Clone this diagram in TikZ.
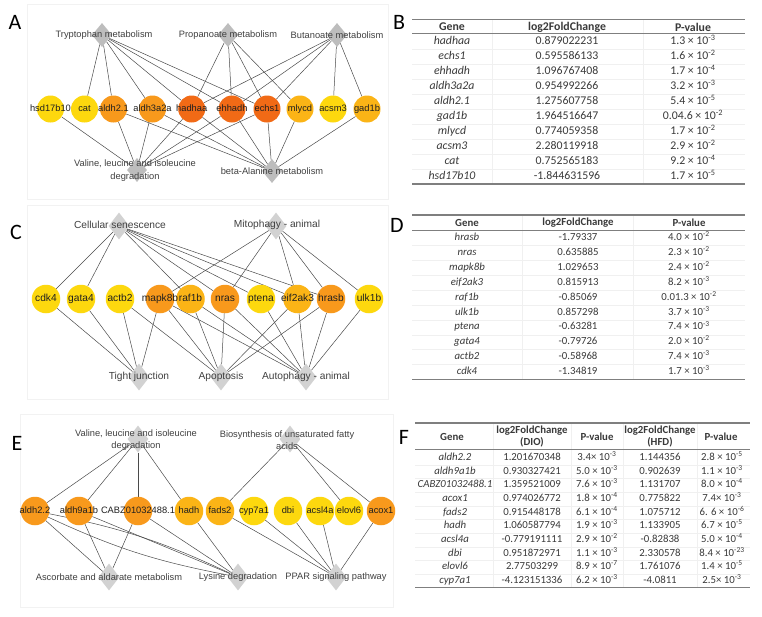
\documentclass[tikz,border=0pt]{standalone}
\usepackage{fontspec}
\setmainfont{Liberation Sans}
\newfontfamily\tabfont{Carlito}
\usetikzlibrary{shapes.geometric,backgrounds}
\definecolor{cy}{HTML}{FDD80E}
\definecolor{cl}{HTML}{FBB416}
\definecolor{co}{HTML}{F8991C}
\definecolor{cd}{HTML}{F16A16}
\definecolor{pwa}{HTML}{BDBDBD}
\definecolor{pwc}{HTML}{D2D2D2}
\definecolor{edgec}{HTML}{4A4A4A}
\definecolor{tabtext}{HTML}{3A3A3A}
\definecolor{rulec}{HTML}{7F7F7F}
\definecolor{gridc}{HTML}{F0F0F0}
\definecolor{framec}{HTML}{F2F2F2}
\tikzset{
  edge/.style={draw=edgec, line width=0.5pt},
  pwA/.style={diamond, fill=pwa, draw=none, minimum width=20pt, minimum height=24pt, inner sep=0pt},
  pwC/.style={diamond, fill=pwc, draw=none, minimum width=21pt, minimum height=27pt, inner sep=0pt},
  geneA/.style={circle, fill=#1, draw=none, minimum size=27pt, inner sep=0pt},
  geneC/.style={circle, fill=#1, draw=none, minimum size=28.5pt, inner sep=0pt},
  gtA/.style={font=\fontsize{9.3}{11}\selectfont, text=black!88, inner sep=0pt, text height=7pt, text depth=2pt},
  gtC/.style={font=\fontsize{10.2}{12}\selectfont, text=black!88, inner sep=0pt, text height=7.5pt, text depth=2pt},
  ptA/.style={font=\fontsize{9.3}{13}\selectfont, text=black!75, align=center, inner sep=0pt},
  ptC/.style={font=\fontsize{10.2}{13}\selectfont, text=black!75, align=center, inner sep=0pt},
  letter/.style={font=\tabfont\fontsize{22}{24}\selectfont, inner sep=0pt},
  trule/.style={draw=rulec, line width=1.2pt},
  tgrid/.style={draw=gridc, line width=0.5pt},
  frame/.style={draw=framec, line width=0.6pt},
  tc/.style={font=\tabfont\fontsize{#1}{13}\selectfont, text=tabtext, inner sep=0pt, text height=0.68*#1 pt, text depth=0.2*#1 pt},
  tg/.style={font=\tabfont\itshape\fontsize{#1}{13}\selectfont, text=tabtext, inner sep=0pt, text height=0.68*#1 pt, text depth=0.2*#1 pt},
  th/.style={font=\tabfont\bfseries\fontsize{#1}{12}\selectfont, text=tabtext, inner sep=0pt, align=center},
}
\begin{document}
\begin{tikzpicture}[x=1pt,y=-1pt]
\useasboundingbox (0,0) rectangle (762,616);

% ---------- letters ----------
\node[letter] (LA) at (15,22) {A};
\node[letter] (LB) at (399,22) {B};
\node[letter] (LC) at (16,232) {C};
\node[letter] (LD) at (397,225) {D};
\node[letter] (LE) at (17,443) {E};
\node[letter] (LF) at (404,437) {F};

% ---------- panel A ----------
\node[pwA] (trp) at (102,35) {};
\node[pwA] (pro) at (228,35) {};
\node[pwA] (but) at (337,35) {};
\node[pwA] (val) at (137,170) {};
\node[pwA] (bal) at (272,171) {};
\node[ptA] (trpL) at (104,35) {Tryptophan metabolism};
\node[ptA] (proL) at (228,35) {Propanoate metabolism};
\node[ptA] (butL) at (337,35) {Butanoate metabolism};
\node[ptA] (valL) at (135,171) {Valine, leucine and isoleucine\\degradation};
\node[ptA] (balL) at (272,171) {beta-Alanine metabolism};
\foreach \n/\x/\c in {hsd/50.5/cy, cat/84.5/cy, aldA/113.5/co, aldB/152.5/co, hadhaa/191.7/cd, ehh/232/cd, echs/267/cd, mly/300/cl, acsm/333/cy, gad/367/cl}
  \node[geneA=\c] (\n) at (\x,109) {};
\foreach \n/\t in {hsd/hsd17b10, cat/cat, aldA/aldh2.1, aldB/aldh3a2a, hadhaa/hadhaa, ehh/ehhadh, echs/echs1, mly/mlycd, acsm/acsm3, gad/gad1b}
  \node[gtA] (\n-t) at (\n) {\t};

% ---------- panel C ----------
\node[pwC] (cs) at (119,226) {};
\node[pwC] (mit) at (276,226) {};
\node[pwC] (tj) at (139,377) {};
\node[pwC] (apo) at (221,377) {};
\node[pwC] (aut) at (306,377) {};
\node[ptC] (csL) at (120,225) {Cellular senescence};
\node[ptC] (mitL) at (277,225) {Mitophagy - animal};
\node[ptC] (tjL) at (139,377) {Tight junction};
\node[ptC] (apoL) at (221,377) {Apoptosis};
\node[ptC] (autL) at (306,377) {Autophagy - animal};
\foreach \n/\x/\c in {cdk/46/cy, gata/81/cy, actb/120/cy, mapk/160/co, raf/190.5/cl, nras/225/co, pten/261/cy, eif/297.5/cl, hras/331/co, ulk/369/cy}
  \node[geneC=\c] (\n) at (\x,299) {};
\foreach \n/\t in {cdk/cdk4, gata/gata4, actb/actb2, mapk/mapk8b, raf/raf1b, nras/nras, pten/ptena, eif/eif2ak3, hras/hrasb, ulk/ulk1b}
  \node[gtC] (\n-t) at (\n) {\t};

% ---------- panel E ----------
\node[pwC] (valE) at (138,439) {};
\node[pwC] (bio) at (290,439) {};
\node[pwC] (asc) at (109,577) {};
\node[pwC] (lys) at (238,577) {};
\node[pwC] (ppar) at (336,577) {};
\node[ptA,font=\fontsize{9.3}{12}\selectfont] (valEL) at (136,440) {Valine, leucine and isoleucine\\degradation};
\node[ptA,font=\fontsize{9.3}{12}\selectfont] (bioL) at (287,440) {Biosynthesis of unsaturated fatty\\acids};
\node[ptA] (ascL) at (109,577) {Ascorbate and aldarate metabolism};
\node[ptA] (lysL) at (238,577) {Lysine degradation};
\node[ptA] (pparL) at (336,577) {PPAR signaling pathway};
\foreach \n/\x/\c in {aldC/35/co, aldD/79/co, cabz/138/co, hadh/189/cl, fads/220/cl, cyp/254/cy, dbi/288/cy, acsl/320/cy, elo/349/cy, acox/381/co}
  \node[geneC=\c] (\n) at (\x,511) {};
\foreach \n/\t in {aldC/aldh2.2, aldD/aldh9a1b, cabz/CABZ01032488.1, hadh/hadh, fads/fads2, cyp/cyp7a1, dbi/dbi, acsl/acsl4a, elo/elovl6, acox/acox1}
  \node[gtA] (\n-t) at (\n) {\t};

% ---------- table B ----------
\draw[trule] (412,19.5) -- (745,19.5);
\draw[trule,line width=1pt] (412,33.5) -- (745,33.5);
\draw[trule] (412,184) -- (745,184);
\node[th=11.8] (Bh1) at (452,27) {Gene};
\node[th=11.8] (Bh2) at (567,27) {log2FoldChange};
\node[th=11.8] (Bh3) at (693,27) {P-value};
\foreach \g/\v/\p [count=\i] in {
  hadhaa/0.879022231/1.3 × 10\textsuperscript{-3},
  echs1/0.595586133/1.6 × 10\textsuperscript{-2},
  ehhadh/1.096767408/1.7 × 10\textsuperscript{-4},
  aldh3a2a/0.954992266/3.2 × 10\textsuperscript{-3},
  aldh2.1/1.275607758/5.4 × 10\textsuperscript{-5},
  gad1b/1.964516647/0.04.6 × 10\textsuperscript{-2},
  mlycd/0.774059358/1.7 × 10\textsuperscript{-2},
  acsm3/2.280119918/2.9 × 10\textsuperscript{-2},
  cat/0.752565183/9.2 × 10\textsuperscript{-4},
  hsd17b10/-1.844631596/1.7 × 10\textsuperscript{-5}}
{
  \node[tg=11.8] (B-\i-1) at (452,{42+15*(\i-1)}) {\g};
  \node[tc=11.8] (B-\i-2) at (567,{42+15*(\i-1)}) {\v};
  \node[tc=11.8] (B-\i-3) at (693,{42+15*(\i-1)}) {\p};
}

% ---------- table D ----------
\draw[trule] (412,215) -- (745,215);
\draw[trule,line width=1pt] (412,230) -- (745,230);
\draw[trule] (412,379.5) -- (745,379.5);
\node[th=10.8] (Dh1) at (467,223) {Gene};
\node[th=10.8] (Dh2) at (578,223) {log2FoldChange};
\node[th=10.8] (Dh3) at (689,223) {P-value};
\foreach \g/\v/\p [count=\i] in {
  hrasb/-1.79337/4.0 × 10\textsuperscript{-2},
  nras/0.635885/2.3 × 10\textsuperscript{-2},
  mapk8b/1.029653/2.4 × 10\textsuperscript{-2},
  eif2ak3/0.815913/8.2 × 10\textsuperscript{-3},
  raf1b/-0.85069/0.01.3 × 10\textsuperscript{-2},
  ulk1b/0.857298/3.7 × 10\textsuperscript{-3},
  ptena/-0.63281/7.4 × 10\textsuperscript{-3},
  gata4/-0.79726/2.0 × 10\textsuperscript{-2},
  actb2/-0.58968/7.4 × 10\textsuperscript{-3},
  cdk4/-1.34819/1.7 × 10\textsuperscript{-3}}
{
  \node[tg=10.8] (D-\i-1) at (467,{238+14.9*(\i-1)}) {\g};
  \node[tc=10.8] (D-\i-2) at (578,{238+14.9*(\i-1)}) {\v};
  \node[tc=10.8] (D-\i-3) at (689,{238+14.9*(\i-1)}) {\p};
}

% ---------- table F ----------
\draw[trule] (415,423) -- (750,423);
\draw[trule,line width=1pt] (415,449) -- (750,449);
\draw[trule] (415,587.5) -- (750,587.5);
\node[th=10.8] (Fh1) at (452,437) {Gene};
\node[th=10.8] (Fh2) at (532,437) {log2FoldChange\\(DIO)};
\node[th=10.8] (Fh3) at (597,437) {P-value};
\node[th=10.8] (Fh4) at (660,437) {log2FoldChange\\(HFD)};
\node[th=10.8] (Fh5) at (721,437) {P-value};
\foreach \g/\v/\p/\w/\q [count=\i] in {
  aldh2.2/1.201670348/3.4× 10\textsuperscript{-3}/1.144356/2.8 × 10\textsuperscript{-5},
  aldh9a1b/0.930327421/5.0 × 10\textsuperscript{-3}/0.902639/1.1 × 10\textsuperscript{-3},
  CABZ01032488.1/1.359521009/7.6 × 10\textsuperscript{-3}/1.131707/8.0 × 10\textsuperscript{-4},
  acox1/0.974026772/1.8 × 10\textsuperscript{-4}/0.775822/7.4× 10\textsuperscript{-3},
  fads2/0.915448178/6.1 × 10\textsuperscript{-4}/1.075712/6. 6 × 10\textsuperscript{-6},
  hadh/1.060587794/1.9 × 10\textsuperscript{-3}/1.133905/6.7 × 10\textsuperscript{-5},
  acsl4a/-0.779191111/2.9 × 10\textsuperscript{-2}/-0.82838/5.0 × 10\textsuperscript{-4},
  dbi/0.951872971/1.1 × 10\textsuperscript{-3}/2.330578/8.4 × 10\textsuperscript{-23},
  elovl6/2.77503299/8.9 × 10\textsuperscript{-7}/1.761076/1.4 × 10\textsuperscript{-5},
  cyp7a1/-4.123151336/6.2 × 10\textsuperscript{-3}/-4.0811/2.5× 10\textsuperscript{-3}}
{
  \node[tg=10.8] (F-\i-1) at (455,{458+13.65*(\i-1)}) {\g};
  \node[tc=10.8] (F-\i-2) at (532,{458+13.65*(\i-1)}) {\v};
  \node[tc=10.8] (F-\i-3) at (597,{458+13.65*(\i-1)}) {\p};
  \node[tc=10.8] (F-\i-4) at (660,{458+13.65*(\i-1)}) {\w};
  \node[tc=10.8] (F-\i-5) at (722,{458+13.65*(\i-1)}) {\q};
}

% ---------- background: frames, grids, edges ----------
\begin{scope}[on background layer]
  \fill[white] (0,0) rectangle (762,616);
  \draw[frame] (27,4) rectangle (388,199);
  \draw[frame] (27,205) rectangle (388,399);
  \draw[frame] (20,414) rectangle (393,607);
  % table grids
  \foreach \x in {492,643} \draw[tgrid] (\x,19.5) -- (\x,184);
  \foreach \k in {1,...,9} \draw[tgrid] (412,{34.5+15*\k}) -- (745,{34.5+15*\k});
  \foreach \x in {522,633} \draw[tgrid] (\x,215) -- (\x,379.5);
  \foreach \k in {1,...,9} \draw[tgrid] (412,{230.5+14.9*\k}) -- (745,{230.5+14.9*\k});
  \foreach \x in {493,571,623,697} \draw[tgrid] (\x,423) -- (\x,587.5);
  \foreach \k in {1,...,9} \draw[tgrid] (415,{451.2+13.65*\k}) -- (750,{451.2+13.65*\k});
  % panel A edges
  \foreach \a/\b in {trp/cat, trp/aldA, trp/aldB, trp/hadhaa, trp/ehh, trp/echs,
    pro/hadhaa, pro/ehh, pro/echs, pro/mly,
    but/hadhaa, but/ehh, but/echs, but/acsm, but/gad,
    val/hsd, val/aldA, val/aldB, val/hadhaa, val/ehh, val/echs,
    bal/aldA, bal/aldB, bal/hadhaa, bal/ehh, bal/echs, bal/mly, bal/gad}
    \draw[edge] (\a) -- (\b);
  % panel C edges
  \foreach \a/\b in {cs/cdk, cs/gata, cs/raf, cs/nras, cs/pten, cs/eif, cs/hras,
    mit/mapk, mit/nras, mit/eif, mit/hras, mit/ulk,
    tj/cdk, tj/gata, tj/actb, tj/mapk,
    apo/actb, apo/mapk, apo/raf, apo/nras, apo/eif, apo/hras,
    aut/mapk, aut/raf, aut/nras, aut/pten, aut/eif, aut/hras, aut/ulk}
    \draw[edge] (\a) -- (\b);
  % panel E edges
  \foreach \a/\b in {valE/aldC, valE/aldD, valE/cabz, valE/hadh,
    bio/fads, bio/elo, bio/acox,
    asc/aldC, asc/aldD, asc/cabz,
    lys/aldD, lys/cabz, lys/hadh,
    ppar/fads, ppar/cyp, ppar/dbi, ppar/acsl, ppar/acox}
    \draw[edge] (\a) -- (\b);
  \draw[edge] (aldC) to[bend left=7] (lys);
  \draw[edge] (aldC) to[bend right=7] (lys);
\end{scope}
\end{tikzpicture}
\end{document}
